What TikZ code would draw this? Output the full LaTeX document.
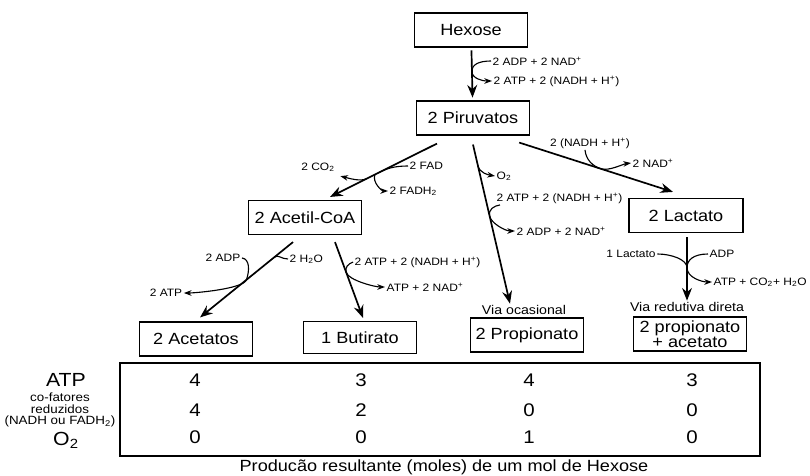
\documentclass[tikz,border=0pt]{standalone}
\usepackage{fontspec}
\setmainfont{Liberation Sans}[FakeStretch=1.12]
\usetikzlibrary{arrows.meta, calc}

\begin{document}
\begin{tikzpicture}[
  x=0.025cm, y=-0.025cm,
  every node/.style={inner sep=1pt},
  boxnode/.style={rectangle, draw, line width=0.8pt, minimum width=2.83cm, minimum height=0.85cm, font=\fontsize{11.5}{12}\selectfont, align=center},
  reac/.style={font=\fontsize{7.6}{8}\selectfont, inner sep=1pt},
  vianode/.style={font=\fontsize{9}{10}\selectfont},
  numnode/.style={font=\fontsize{13}{14}\selectfont},
  bignode/.style={font=\fontsize{13.5}{14}\selectfont},
  flux/.style={-{Stealth[length=9pt, width=7pt]}, line width=1.2pt},
  side/.style={line width=0.8pt},
  sidearr/.style={-{Stealth[length=5.5pt, width=4pt]}, line width=0.8pt},
]
\useasboundingbox (0,0) rectangle (810,475);

% boxes
\node[boxnode] (hex) at (471,30) {Hexose};
\node[boxnode] (pir) at (473,118) {2 Piruvatos};
\node[boxnode] (acet) at (305,217.5) {2 Acetil-CoA};
\node[boxnode, minimum width=2.85cm] (lac) at (686,215.5) {2 Lactato};
\node[boxnode] (ace) at (196,339) {2 Acetatos};
\node[boxnode, minimum height=0.8cm] (but) at (360,337.5) {1 Butirato};
\node[boxnode] (pro) at (527,335) {2 Propionato};
\node[boxnode, inner ysep=0.5pt, font=\fontsize{11.5}{11}\selectfont] (pac) at (690,334) {2 propionato\\+ acetato};
\node[vianode] (vo) at (524,310) {Via ocasional};
\node[vianode] (vrd) at (687,307) {Via redutiva direta};

% main arrows
\draw[flux, shorten <=2pt, shorten >=2pt] (hex) -- (pir);
\coordinate (pa1) at ($(pir.south)+(-36,8)$);
\coordinate (pa2) at ($(acet.north)+(25,-3)$);
\draw[flux] (pa1) -- (pa2);
\coordinate (pc1) at ($(pir.south)+(0,9)$);
\coordinate (pc2) at ($(vo.north)+(-14,0)$);
\draw[flux] (pc1) -- (pc2);
\coordinate (pd1) at ($(pir.south east)+(-11,7)$);
\coordinate (pd2) at ($(lac.north)+(-13,-6)$);
\draw[flux] (pd1) -- (pd2);
\coordinate (pe1) at ($(acet.south)+(-12,7)$);
\coordinate (pe2) at ($(ace.north)+(4,-4)$);
\draw[flux] (pe1) -- (pe2);
\coordinate (pf1) at ($(acet.south)+(30,7)$);
\coordinate (pf2) at ($(but.north)+(3,-3)$);
\draw[flux] (pf1) -- (pf2);
\coordinate (pg1) at ($(lac.south)+(1,4)$);
\draw[flux] (pg1) -- (vrd.north);

% hexose -> piruvatos
\node[reac, anchor=west] (hadp) at (491,61) {2 ADP + 2 NAD\textsuperscript{+}};
\node[reac, anchor=west] (hatp) at (492,81) {2 ATP + 2 (NADH + H\textsuperscript{+})};
\coordinate (hm) at ($(hex.south)!0.45!(pir.north)$);
\draw[sidearr] (hadp.west) .. controls +(-12,0) and +(0,-7) .. (hm) .. controls +(0,7) and +(-10,0) .. (hatp.west);

% piruvatos -> acetil-CoA
\node[reac, anchor=west] (lfad) at (408,166) {2 FAD};
\node[reac] (lco2) at (318,167) {2 CO\textsubscript{2}};
\node[reac, anchor=west] (lfadh) at (388,191) {2 FADH\textsubscript{2}};
\draw[side] (lfad.west) .. controls +(-15,0) and +(8,-4) .. ($(pa1)!0.55!(pa2)$);
\draw[sidearr] ($(pa1)!0.66!(pa2)$) .. controls +(-6,3) and +(8,2) .. ($(lco2.south east)+(4,3)$);
\draw[sidearr] ($(pa1)!0.58!(pa2)$) .. controls +(-3,8) and +(-6,0) .. (lfadh.west);

% piruvatos -> propionato
\node[reac, anchor=west] (lo2) at (495,176) {O\textsubscript{2}};
\draw[sidearr] ($(pc1)!0.13!(pc2)$) .. controls +(1.5,8) and +(-6,-1) .. (lo2.west);
\node[reac, anchor=west] (cpatp) at (495,198) {2 ATP + 2 (NADH + H\textsuperscript{+})};
\node[reac, anchor=west] (cpadp) at (515,231) {2 ADP + 2 NAD\textsuperscript{+}};
\draw[sidearr] ($(cpatp.south west)+(5,0)$) .. controls +(-6,1) and +(-1.5,-7) .. ($(pc1)!0.45!(pc2)$) .. controls +(1.5,7) and +(-10,0) .. (cpadp.west);

% piruvatos -> lactato
\node[reac] (lnadh) at (590,143) {2 (NADH + H\textsuperscript{+})};
\node[reac, anchor=west] (lnad) at (631,163) {2 NAD\textsuperscript{+}};
\draw[sidearr] ($(lnadh.south)+(-5,0)$) .. controls +(1,10) and +(-8,-2.7) .. ($(pd1)!0.53!(pd2)$) .. controls +(8,2.7) and +(-8,1) .. (lnad.west);

% acetil-CoA -> acetatos
\node[reac, anchor=west] (lh2o) at (288,259) {2 H\textsubscript{2}O};
\draw[side] (lh2o.west) .. controls +(-7,0) and +(4,-3) .. ($(pe1)!0.2!(pe2)$);
\node[reac] (ladp) at (223,258) {2 ADP};
\node[reac] (latp) at (166,293) {2 ATP};
\draw[sidearr] (ladp.east) .. controls +(8,1) and +(3,-9) .. ($(pe1)!0.5!(pe2)$) .. controls +(-3,9) and +(12,0) .. (latp.east);

% acetil-CoA -> butirato
\node[reac, anchor=west] (bnadh) at (353,262) {2 ATP + 2 (NADH + H\textsuperscript{+})};
\node[reac, anchor=west] (bnad) at (385,287) {ATP + 2 NAD\textsuperscript{+}};
\draw[sidearr] (bnadh.west) .. controls +(-5,2) and +(-1.5,-5) .. ($(pf1)!0.4!(pf2)$) .. controls +(2.5,8) and +(-10,0) .. (bnad.west);

% lactato -> propionato + acetato
\node[reac] (llac) at (631,254) {1 Lactato};
\node[reac, anchor=west] (ladp2) at (708,254) {ADP};
\node[reac, anchor=west] (lprod) at (712,282) {ATP + CO\textsubscript{2}+ H\textsubscript{2}O};
\coordinate (gm) at ($(pg1)!0.48!(vrd.north)$);
\draw[side] (llac.east) .. controls +(14,0) and +(0,-8) .. (gm);
\draw[side] (ladp2.west) .. controls +(-14,0) and +(0,-8) .. (gm);
\draw[sidearr] (gm) .. controls +(0,10) and +(-10,0) .. (lprod.west);

% table
\node[draw, line width=1pt, minimum width=16cm, minimum height=2.325cm, inner sep=0pt] (tab) at (440,409.5) {};
\foreach \cx/\va/\vb/\vc in {195/4/4/0, 361/3/2/0, 529/4/0/1, 692/3/0/0} {
  \node[numnode] (atp\cx) at (\cx,380) {\va};
  \node[numnode] (cof\cx) at (\cx,410) {\vb};
  \node[numnode] (oxy\cx) at (\cx,437) {\vc};
}
\node[bignode] (latpl) at (66,380) {ATP};
\node[font=\fontsize{8.5}{8}\selectfont, align=center] (lcof) at (60,410) {co-fatores\\reduzidos\\(NADH ou FADH\textsubscript{2})};
\node[bignode] (lo2l) at (66,440) {O\textsubscript{2}};
\node[font=\fontsize{11.5}{12}\selectfont] (capt) at (444,467) {Producão resultante (moles) de um mol de Hexose};
\end{tikzpicture}
\end{document}
